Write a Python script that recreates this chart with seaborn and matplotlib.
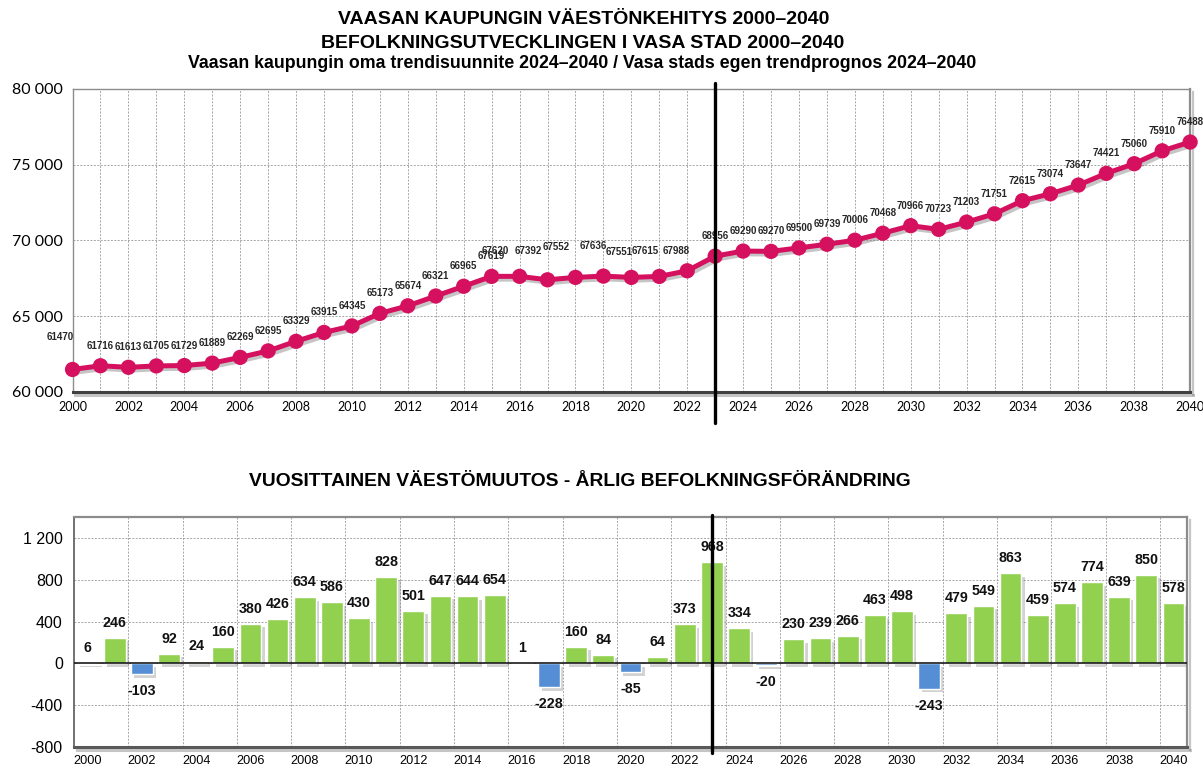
import matplotlib
matplotlib.use("Agg")
import matplotlib.pyplot as plt
import matplotlib.patheffects as pe
import matplotlib.transforms as mtrans
import seaborn as sns
import pandas as pd

# data
years = list(range(2000, 2041))
population = [61470, 61716, 61613, 61705, 61729, 61889, 62269, 62695, 63329, 63915,
              64345, 65173, 65674, 66321, 66965, 67619, 67620, 67392, 67552, 67636,
              67551, 67615, 67988, 68956, 69290, 69270, 69500, 69739, 70006, 70468,
              70966, 70723, 71203, 71751, 72615, 73074, 73647, 74421, 75060, 75910,
              76488]
change = [6, 246, -103, 92, 24, 160, 380, 426, 634, 586,
          430, 828, 501, 647, 644, 654, 1, -228, 160, 84,
          -85, 64, 373, 968, 334, -20, 230, 239, 266, 463,
          498, -243, 479, 549, 863, 459, 574, 774, 639, 850,
          578]
split_year = 2023
pop_ticks = [60000, 65000, 70000, 75000, 80000]
change_ticks = [-800, -400, 0, 400, 800, 1200]

title1 = "VAASAN KAUPUNGIN VÄESTÖNKEHITYS 2000–2040"
title2 = "BEFOLKNINGSUTVECKLINGEN I VASA STAD 2000–2040"
title3 = "Vaasan kaupungin oma trendisuunnite 2024–2040 / Vasa stads egen trendprognos 2024–2040"
title_bars = "VUOSITTAINEN VÄESTÖMUUTOS - ÅRLIG BEFOLKNINGSFÖRÄNDRING"

LINE = "#D5115F"
GREEN = "#92D050"
BLUE = "#558ED5"
GRID = "#a6a6a6"
ARIAL = ["Liberation Sans", "DejaVu Sans"]
TICKF = ["Lato", "DejaVu Sans"]

sns.set_style("white")
plt.rcParams["font.family"] = ARIAL

df_pop = pd.DataFrame({"year": years, "population": population})
df_chg = pd.DataFrame({"year": [str(y) for y in years], "change": change})
df_chg["sign"] = ["neg" if v < 0 else "pos" for v in change]

fig = plt.figure(figsize=(12.03, 7.69), dpi=100)
ax1 = fig.add_axes([0.0603, 0.4906, 0.929, 0.3938])
ax2 = fig.add_axes([0.0615, 0.0286, 0.9252, 0.2991])

shadow = [pe.SimpleLineShadow(offset=(2, -2), shadow_color="#7f7f7f", alpha=0.45), pe.Normal()]

# ---------------- top: population line ----------------
sns.lineplot(data=df_pop, x="year", y="population", ax=ax1, color=LINE, linewidth=3.6,
             marker="o", markersize=11, markeredgewidth=0, clip_on=False, zorder=5)
for ln in ax1.lines:
    ln.set_path_effects(shadow)

ax1.set_xlim(2000, 2040)
ax1.set_ylim(60000, 80000)
ax1.set_xticks(years)
ax1.set_xticklabels([str(y) if y % 2 == 0 else "" for y in years], fontsize=9, family=TICKF,
                    color="black")
ax1.set_yticks(pop_ticks)
ax1.set_yticklabels([f"{v:,}".replace(",", " ") for v in pop_ticks], fontsize=11.5,
                    family=TICKF, color="black")
ax1.tick_params(axis="both", direction="out", length=4, width=1, color="#404040", pad=3)
ax1.set_xlabel("")
ax1.set_ylabel("")
ax1.grid(True, linestyle=(0, (2, 1.5)), color=GRID, linewidth=0.7)
ax1.set_axisbelow(True)
for s in ["top", "right", "left"]:
    ax1.spines[s].set_color("#8c8c8c")
    ax1.spines[s].set_linewidth(1.0)
ax1.spines["bottom"].set_color("#404040")
ax1.spines["bottom"].set_linewidth(2.2)
ax1.spines["bottom"].set_path_effects(shadow)
ax1.spines["right"].set_linewidth(1.6)
ax1.spines["right"].set_path_effects(shadow)

# label nudges (pixels) copied from the original layout
label_offsets = {2000: (-12, 32), 2016: (-24, 25), 2017: (-19, 29), 2018: (-19, 30),
                 2019: (-10, 30), 2020: (-12, 25), 2021: (-14, 25), 2022: (-11, 20)}
for yr, v in zip(years, population):
    dx, dy = label_offsets.get(yr, (0, 20))
    ax1.annotate(str(v), (yr, v), xytext=(dx, dy), textcoords="offset pixels",
                 ha="center", va="center", fontsize=7.0, fontweight="bold",
                 color="#262626", family=ARIAL, annotation_clip=False, zorder=6)

tr1 = mtrans.blended_transform_factory(ax1.transData, ax1.transAxes)
ax1.plot([split_year, split_year], [-0.103, 1.02], transform=tr1, color="black",
         linewidth=2.4, clip_on=False, zorder=7)

# ---------------- bottom: annual change bars ----------------
sns.barplot(data=df_chg, x="year", y="change", hue="sign", palette={"pos": GREEN, "neg": BLUE},
            dodge=False, legend=False, width=0.8, saturation=1, ax=ax2, zorder=3)
for p in ax2.patches:
    p.set_path_effects([pe.SimplePatchShadow(offset=(2.5, -2.5), shadow_rgbFace="#808080", alpha=0.35),
                        pe.Normal()])

ax2.set_xlim(-0.5, len(years) - 0.5)
ax2.set_ylim(-800, 1400)
ax2.set_xticks(range(len(years)))
ax2.set_xticklabels([str(y) if y % 2 == 0 else "" for y in years], fontsize=9.2, color="black")
ax2.set_yticks(change_ticks)
ax2.set_yticklabels([f"{v:,}".replace(",", " ") for v in change_ticks], fontsize=11.5,
                    color="black")
ax2.tick_params(axis="x", length=0, pad=6)
ax2.tick_params(axis="y", direction="out", length=4, width=1, color="#404040", pad=4)
ax2.set_xlabel("")
ax2.set_ylabel("")
ax2.yaxis.grid(True, linestyle=(0, (2, 1.5)), color=GRID, linewidth=0.7)
for k in range(1, len(years) - 1, 2):
    ax2.axvline(k + 0.5, linestyle=(0, (2, 1.5)), color=GRID, linewidth=0.7, zorder=0)
ax2.axhline(0, color="#1a1a1a", linewidth=1.2, zorder=4)
ax2.set_axisbelow(True)
for s in ["top", "right"]:
    ax2.spines[s].set_color("#8c8c8c")
    ax2.spines[s].set_linewidth(1.6)
ax2.spines["right"].set_path_effects(shadow)
ax2.spines["left"].set_color("#595959")
ax2.spines["left"].set_linewidth(1.2)
ax2.spines["bottom"].set_color("#595959")
ax2.spines["bottom"].set_linewidth(2.2)
ax2.spines["bottom"].set_path_effects(shadow)

for i, v in enumerate(change):
    dy = 15 if v >= 0 else -17
    ax2.annotate(str(v), (i, v), xytext=(0, dy), textcoords="offset pixels",
                 ha="center", va="center", fontsize=10.3, fontweight="bold",
                 color="#111111", annotation_clip=False, zorder=6)

split_idx = years.index(split_year)
tr2 = mtrans.blended_transform_factory(ax2.transData, ax2.transAxes)
ax2.plot([split_idx, split_idx], [-0.026, 1.01], transform=tr2, color="black",
         linewidth=2.4, clip_on=False, zorder=7)

# ---------------- titles ----------------
fig.text(0.4855, 1 - 20 / 769, title1, ha="center", va="center", fontsize=14,
         fontweight="bold", color="black")
fig.text(0.4840, 1 - 43 / 769, title2, ha="center", va="center", fontsize=14,
         fontweight="bold", color="black")
fig.text(0.4840, 1 - 64 / 769, title3, ha="center", va="center", fontsize=12.8,
         fontweight="bold", color="black")
fig.text(0.4820, 1 - 481 / 769, title_bars, ha="center", va="center", fontsize=13.9,
         fontweight="bold", color="black")

fig.savefig("out.png", dpi=100, facecolor="white")
